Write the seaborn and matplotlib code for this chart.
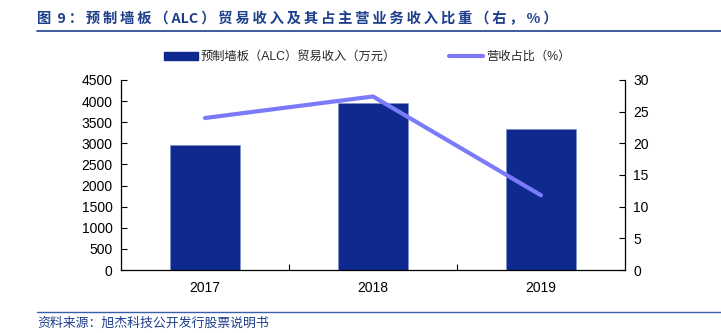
import numpy as np
import pandas as pd
import matplotlib
matplotlib.use("Agg")
import matplotlib.pyplot as plt
from matplotlib.patches import Patch
from matplotlib.lines import Line2D
import seaborn as sns

years = ["2017", "2018", "2019"]
revenue = [2950, 3950, 3350]          # 预制墙板（ALC）贸易收入（万元）
share = [24.0, 27.4, 11.8]            # 营收占比（%）

left_ticks = [0, 500, 1000, 1500, 2000, 2500, 3000, 3500, 4000, 4500]
right_ticks = [0, 5, 10, 15, 20, 25, 30]

bar_label = "预制墙板（ALC）贸易收入（万元）"
line_label = "营收占比（%）"
title = "图 9：预制墙板（ALC）贸易收入及其占主营业务收入比重（右，%）"
source = "资料来源：旭杰科技公开发行股票说明书"

sns.set_theme(style="white")
plt.rcParams["font.family"] = ["Liberation Sans", "Noto Sans CJK SC", "DejaVu Sans"]

BAR_COLOR = "#0E2A8E"
LINE_COLOR = "#7B7BFA"
TITLE_COLOR = "#1E3F8C"


def letter_spaced(text):
    """Put a thin space between characters, keeping Latin runs together."""
    out = []
    for i, ch in enumerate(text):
        out.append(ch)
        if i + 1 < len(text):
            nxt = text[i + 1]
            if ch.isascii() and nxt.isascii():
                continue
            out.append("\u2009")
    return "".join(out)


df = pd.DataFrame({"year": years, "revenue": revenue, "share": share})

fig = plt.figure(figsize=(7.21, 3.33), dpi=100)
ax = fig.add_axes([121 / 721, 63 / 333, 504 / 721, 190 / 333])

sns.barplot(data=df, x="year", y="revenue", order=years, color=BAR_COLOR,
            saturation=1, width=0.42, ax=ax, edgecolor="#8090D0", linewidth=0.4)

ax2 = ax.twinx()
sns.pointplot(data=df, x="year", y="share", order=years, color=LINE_COLOR,
              markers="", linestyles="-", ax=ax2, errorbar=None)
for ln in ax2.lines:
    ln.set_linewidth(3.0)
    ln.set_solid_capstyle("round")

for a in (ax, ax2):
    a.set_xlim(-0.5, 2.5)
    a.set_xlabel("")
    a.set_ylabel("")

ax.set_ylim(0, 4500)
ax.set_yticks(left_ticks)
ax2.set_ylim(0, 30)
ax2.set_yticks(right_ticks)

for a in (ax, ax2):
    a.spines["top"].set_visible(False)
ax.spines["right"].set_visible(False)
ax2.spines["left"].set_visible(False)
ax2.spines["bottom"].set_visible(False)
for sp in (ax.spines["left"], ax.spines["bottom"], ax2.spines["right"]):
    sp.set_color("#000000")
    sp.set_linewidth(0.9)

ax.tick_params(axis="y", direction="in", length=4, width=0.8, color="black",
               labelsize=10, labelcolor="black", pad=6, left=True)
ax2.tick_params(axis="y", direction="in", length=4, width=0.8, color="black",
                labelsize=10, labelcolor="black", pad=6, right=True)
ax.set_xticks([0, 1, 2])
ax.set_xticklabels(years)
ax.set_xticks([0.5, 1.5], minor=True)
ax.tick_params(axis="x", which="major", length=0, labelsize=10,
               labelcolor="black", pad=8)
ax.tick_params(axis="x", which="minor", direction="in", length=4, width=0.8,
               color="black", bottom=True)
ax.grid(False)
ax2.grid(False)

handles = [Patch(facecolor=BAR_COLOR, edgecolor=BAR_COLOR),
           Line2D([0], [0], color=LINE_COLOR, linewidth=3)]
fig.legend(handles, [bar_label, line_label], loc="center",
           bbox_to_anchor=(367 / 721, 1 - 57 / 333), ncol=2, frameon=False,
           handlelength=2.8, handleheight=0.6,
           handletextpad=0.25, columnspacing=4.3,
           prop={"family": ["Liberation Sans", "Noto Sans CJK SC"], "size": 8.8})

fig.text(37 / 721, 1 - 19 / 333, letter_spaced(title), fontsize=10.3,
         fontweight="bold", color=TITLE_COLOR, ha="left", va="center",
         family=["Noto Sans CJK SC", "DejaVu Sans"])
fig.add_artist(Line2D([37 / 721, 1.0], [1 - 31 / 333] * 2,
                      transform=fig.transFigure, color=TITLE_COLOR, linewidth=1.2))
fig.add_artist(Line2D([37 / 721, 1.0], [1 - 312 / 333] * 2,
                      transform=fig.transFigure, color="#3A5FAA", linewidth=1.0))
fig.text(37 / 721, 1 - 323 / 333, source, fontsize=9.3, color=TITLE_COLOR,
         ha="left", va="center", style="italic",
         family=["Noto Sans CJK SC", "DejaVu Sans"])

fig.savefig("out.png", dpi=100)
